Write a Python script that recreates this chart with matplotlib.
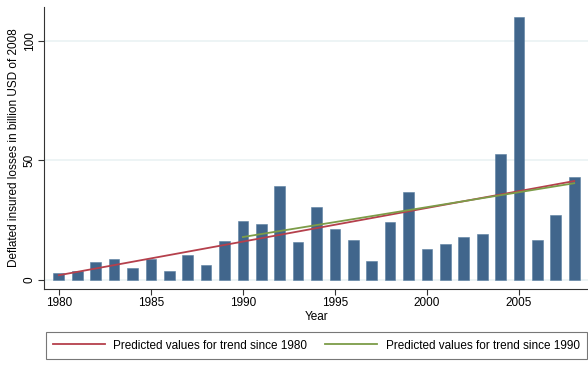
import numpy as np
import matplotlib
matplotlib.use("Agg")
import matplotlib.pyplot as plt

plt.rcParams["font.family"] = ["Liberation Sans", "DejaVu Sans"]

years = list(range(1980, 2009))
losses = [3.1, 3.8, 7.5, 8.8, 5.1, 8.8, 3.9, 10.3, 6.4, 16.3,
          24.5, 23.6, 39.2, 16.0, 30.4, 21.2, 16.7, 7.8, 24.3, 36.7,
          13.0, 14.9, 18.0, 19.4, 52.8, 109.9, 16.7, 27.2, 42.9]
yticks = [0, 50, 100]
xticks = [1980, 1985, 1990, 1995, 2000, 2005]

bar_color = "#41668c"
red = "#b5404c"
green = "#7c9c48"

yrs = np.array(years)
vals = np.array(losses)
# linear trends since 1980 and since 1990
p80 = np.polyfit(yrs, vals, 1)
m90 = yrs >= 1990
p90 = np.polyfit(yrs[m90], vals[m90], 1)

fig = plt.figure(figsize=(5.88, 3.68), dpi=100)
ax = fig.add_axes([0.075, 0.215, 0.925, 0.765])

for y in yticks:
    ax.axhline(y, color="#eaf2f3", lw=1.2, zorder=0)

ax.bar(yrs, vals, width=0.58, color=bar_color, edgecolor="#5a7ea0", lw=0.4, zorder=2)
l1, = ax.plot(yrs, np.polyval(p80, yrs), color=red, lw=1.3, zorder=3,
              label="Predicted values for trend since 1980")
l2, = ax.plot(yrs[m90], np.polyval(p90, yrs[m90]), color=green, lw=1.3, zorder=3,
              label="Predicted values for trend since 1990")

ax.set_xlim(1979.2, 2008.75)
ax.set_ylim(-3.7, 114)
ax.set_yticks(yticks)
ax.set_yticklabels([str(t) for t in yticks], rotation=90, va="center", fontsize=8.5)
ax.set_xticks(xticks)
ax.set_xticklabels([str(t) for t in xticks], fontsize=8.5)
ax.tick_params(axis="both", length=4, width=0.8, color="#333333", pad=2)
ax.set_xlabel("Year", fontsize=8.5, labelpad=1)
ax.set_ylabel("Deflated insured losses in billion USD of 2008", fontsize=8.5, labelpad=3)

for s in ["top", "right"]:
    ax.spines[s].set_visible(False)
for s in ["left", "bottom"]:
    ax.spines[s].set_color("#333333")
    ax.spines[s].set_linewidth(0.8)

leg = fig.legend(handles=[l1, l2], loc="center", bbox_to_anchor=(0.538, 0.061),
                 ncol=2, fontsize=8.5, frameon=True, fancybox=False,
                 handlelength=4.4, columnspacing=1.5, handletextpad=0.75,
                 borderpad=0.6)
leg.get_frame().set_edgecolor("#555555")
leg.get_frame().set_linewidth(0.8)

fig.savefig("out.png", dpi=100)
